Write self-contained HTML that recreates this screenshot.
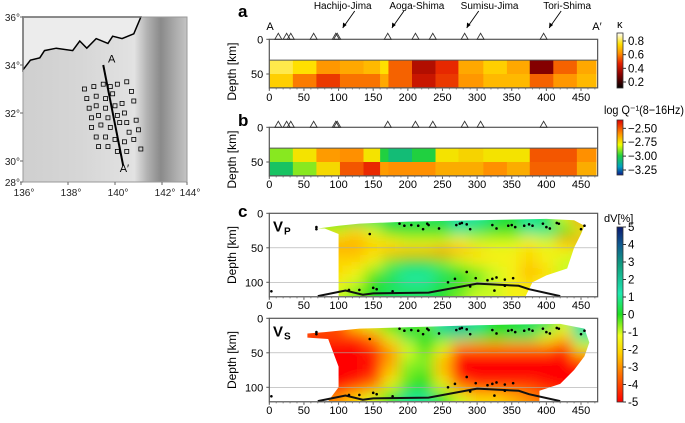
<!DOCTYPE html>
<html><head><meta charset="utf-8">
<style>
html,body{margin:0;padding:0;background:#fff;}
body{width:685px;height:418px;overflow:hidden;font-family:"Liberation Sans",sans-serif;}
svg text{font-family:"Liberation Sans",sans-serif;}
</style></head>
<body>
<svg id="fig" width="685" height="418" viewBox="0 0 685 418" xmlns="http://www.w3.org/2000/svg">
<defs>
  <linearGradient id="mapbg" x1="0" y1="0" x2="1" y2="0">
    <stop offset="0" stop-color="#cfcfcf"/><stop offset="0.35" stop-color="#d6d6d6"/>
    <stop offset="0.68" stop-color="#e2e2e2"/><stop offset="0.76" stop-color="#b0b0b0"/>
    <stop offset="0.84" stop-color="#8a8a8a"/><stop offset="0.92" stop-color="#a8a8a8"/>
    <stop offset="1" stop-color="#c4c4c4"/>
  </linearGradient>
  <linearGradient id="kbar" x1="0" y1="1" x2="0" y2="0">
    <stop offset="0" stop-color="#000"/><stop offset="0.25" stop-color="#8b0000"/>
    <stop offset="0.45" stop-color="#e52000"/><stop offset="0.62" stop-color="#ff8c00"/>
    <stop offset="0.8" stop-color="#ffe000"/><stop offset="1" stop-color="#ffffff"/>
  </linearGradient>
  <linearGradient id="qbar" x1="0" y1="1" x2="0" y2="0">
    <stop offset="0" stop-color="#0a1a8a"/><stop offset="0.15" stop-color="#00a0c0"/>
    <stop offset="0.35" stop-color="#20d040"/><stop offset="0.55" stop-color="#f0ff00"/>
    <stop offset="0.75" stop-color="#ff9000"/><stop offset="1" stop-color="#e00000"/>
  </linearGradient>
  <linearGradient id="dvbar" x1="0" y1="1" x2="0" y2="0">
    <stop offset="0" stop-color="#ff0000"/><stop offset="0.15" stop-color="#ff6a00"/>
    <stop offset="0.28" stop-color="#ffd000"/><stop offset="0.38" stop-color="#f0ff20"/>
    <stop offset="0.5" stop-color="#20e020"/><stop offset="0.62" stop-color="#20e8b0"/>
    <stop offset="0.78" stop-color="#10a080"/><stop offset="0.9" stop-color="#105a90"/>
    <stop offset="1" stop-color="#0a1a70"/>
  </linearGradient>
  <filter id="blur" x="-10%" y="-10%" width="120%" height="120%"><feGaussianBlur stdDeviation="7"/></filter>
</defs>
<g id="map"></g>
<g id="panels"></g>
</svg>
<script>
// ---------------- data ----------------
const xTicks = [0,50,100,150,200,250,300,350,400,450];
const volcanoKm = [13,25,31,64,96,98,171,211,236,282,305,396];
const islandNames = ["Hachijo-Jima","Aoga-Shima","Sumisu-Jima","Tori-Shima"];
const islandKm = [106,177,285,404];
const islandLabelOffsetKm = [0,36,33,26];
const cellEdges = [0,34,68,102,136,160,172,206,240,273,309,343,376,410,444,472];
const kappaTop = [0.8,0.75,0.62,0.65,0.68,0.75,0.55,0.38,0.48,0.65,0.72,0.65,0.3,0.55,0.65];
const kappaBot = [0.72,0.58,0.5,0.57,0.57,0.65,0.55,0.42,0.5,0.62,0.68,0.68,0.55,0.62,0.68];
const qTop = [-2.9,-2.75,-2.62,-2.6,-2.75,-3.0,-3.08,-3.0,-2.75,-2.72,-2.75,-2.75,-2.5,-2.5,-2.6];
const qBot = [-3.05,-2.9,-2.73,-2.5,-2.42,-2.62,-2.6,-2.6,-2.65,-2.65,-2.6,-2.65,-2.52,-2.52,-2.65];
const kTicks = [0.8,0.6,0.4,0.2];
const qTicks = [-2.5,-2.75,-3.0,-3.25];
const dvTicks = [5,4,3,2,1,0,-1,-2,-3,-4,-5];
const depthTicksAB = [0,50];
const depthTicksC = [0,50,100];
const gridX = [100,125,150,175,200,225,250,275,300,325,350,375,400,425,450];
const gridD = [10,25,40,55,70,85,100,115];
const vpGrid = [
 [0,0.5,0.5,0.5,0.5,0.5,0.5,1.5,1,0.5,0,1,0.5,-1,-3],
 [-1,-2,-1,0,0,0,0,1,0.5,0,0,1,1,0,-1],
 [-2.5,-2.5,-2,-1.5,-1,-1,-1,-1.5,-1,-1,-1,-1.5,-1,-2.5,-3],
 [-2.5,-2.5,-2,-2.5,-2.5,-2.5,-3,-2.5,-2,-1.5,-1.5,-2,-1.5,-1.5,-1],
 [-2,-2,-1.5,-0.5,0,0,-0.5,-1,-1.5,-1.5,-1.5,-2,-1.5,-1,-1],
 [-2,-1.5,-0.5,0.5,1,1,0.5,0,-0.5,-1,-1.5,-2.5,-2,-1,-1],
 [-1.5,-1,0,0.5,1,1,0.5,0,-0.5,-1,-1.5,-2,-1.5,-1,-1],
 [-1,-0.5,0,0.5,0.5,0.5,0,-0.5,-1,-1,-1.5,-1.5,-1.5,-1,-1]];
const vsGrid = [
 [-4,-2,-1,0,0,-0.5,1.5,2.5,1,0,0,0.5,0.5,-1,1.5],
 [-4,-4,-3,-1,0.5,0,0.5,1,0.5,0,0.5,0.5,-1,-2,1],
 [-5,-5,-4,-2.5,-1,0,-1,-3,-3,-3,-3,-3,-3,-4,-1],
 [-5,-5,-5,-3,-1,-0.5,-2,-5,-5,-5,-5,-5,-5,-5,-3],
 [-5,-5,-4.5,-2.5,-0.5,-0.5,-2.5,-5,-5,-5,-5,-5,-5,-5,-5],
 [-5,-5,-4.5,-2,-0.5,0,-2,-5,-5,-5,-5,-5,-5,-5,-5],
 [-5,-4,-3,-1,0,0,-1,-3,-4,-4,-4,-4,-4.5,-5,-5],
 [-3,-2,-1,0,1,1,0,-1,-2,-2,-2.5,-3,-3.5,-4,-4]];
const vpMaskKm = [70,100,130,200,300,400,440,455,450,440,430,400,380,370,100,100,80];
const vpMaskD  = [22,18,15,12,10,8,10,18,30,50,80,90,100,120,120,30,22];
const vsMaskKm = [55,80,130,300,420,455,462,455,440,420,390,390,85,100,100,85,55];
const vsMaskD  = [22,20,15,10,8,15,35,55,75,95,105,120,120,100,70,30,28];
const slabKm = [70,110,135,150,230,300,360,375,420];
const slabD  = [120,112,118,116,115,102,105,110,120];
const quakeKm = [3,68,68,145,188,195,205,215,222,228,230,245,270,275,278,285,290,322,328,345,350,355,368,375,380,395,400,405,415,418,450,455,258,268,285,290,298,315,322,328,340,352,115,130,150,155,178,325,340];
const quakeD  = [113,20,23,30,15,18,17,18,23,15,17,22,17,15,14,16,23,17,22,18,17,20,18,16,18,15,20,22,14,15,23,18,100,95,85,106,94,97,95,93,96,94,111,111,108,110,113,112,105];
const stLon = [138.7,139.1,139.5,139.8,140.1,140.5,138.8,139.2,139.6,139.9,140.3,140.7,138.9,139.2,139.6,140.0,140.4,140.8,139.0,139.3,139.7,140.1,140.5,140.9,139.0,139.4,139.8,140.2,140.6,141.0,139.2,139.6,140.0,140.4,140.8,139.3,139.7,140.1,140.5,141.1];
const stLat = [33.0,33.1,33.2,33.1,33.2,33.3,32.6,32.7,32.6,32.8,32.4,32.9,32.2,32.3,32.2,32.3,32.0,32.5,31.8,31.9,31.8,31.9,31.6,31.7,31.4,31.5,31.4,31.6,31.2,31.3,31.0,31.0,30.9,30.8,30.9,30.6,30.6,30.4,30.4,30.5];
const lonTicks = [136,138,140,142,144];
const latTicks = [28,30,32,34,36];

// ---------------- helpers ----------------
const NS="http://www.w3.org/2000/svg";
function mk(tag,attrs,parent){const e=document.createElementNS(NS,tag);for(const k in attrs)e.setAttribute(k,attrs[k]);(parent||document.getElementById('panels')).appendChild(e);return e;}
const X0=269.3, XS=0.6927;
const xs = km => X0 + km*XS;
const rgb = c => 'rgb('+c.map(Math.round).join(',')+')';
function lerpCol(stops,v){
  if(v<=stops[0][0])return rgb(stops[0][1]);
  for(let i=1;i<stops.length;i++){if(v<=stops[i][0]){const [a,ca]=stops[i-1],[b,cb]=stops[i];const t=(v-a)/(b-a);
    return rgb([0,1,2].map(j=>ca[j]+(cb[j]-ca[j])*t));}}
  return rgb(stops[stops.length-1][1]);}
const kStops=[[0.11,[0,0,0]],[0.31,[139,0,0]],[0.47,[229,32,0]],[0.6,[255,140,0]],[0.75,[255,224,0]],[0.92,[255,255,255]]];
const qStops=[[-3.34,[10,26,138]],[-3.19,[0,160,192]],[-3.0,[32,208,64]],[-2.8,[240,255,0]],[-2.6,[255,144,0]],[-2.35,[224,0,0]]];
const dvStops=[[-5,[255,0,0]],[-3.5,[255,106,0]],[-2.2,[255,208,0]],[-1.2,[240,255,32]],[0,[32,224,32]],[1.2,[32,232,176]],[2.8,[16,160,128]],[4,[16,90,144]],[5,[10,26,112]]];

// ---------------- map ----------------
(function(){
  const g=document.getElementById('map');
  const L=23,R=187,T=17,B=182;
  const lx=lon=>21+(lon-136)*23.5, ly=lat=>17+(36-lat)*24;
  const bg=mk('rect',{x:L,y:T,width:R-L,height:B-T,fill:'url(#mapbg)'},g);
  
  
  const land=mk('path',{d:`M${L},${T} L${lx(141.1)},${T} L${lx(140.8)},${ly(35.3)} L${lx(140.3)},${ly(35.1)} L${lx(139.9)},${ly(35.2)} L${lx(139.7)},${ly(34.9)} L${lx(139.2)},${ly(35.1)} L${lx(138.8)},${ly(34.7)} L${lx(138.5)},${ly(35.0)} L${lx(138.2)},${ly(34.6)} L${lx(137.5)},${ly(34.7)} L${lx(137.0)},${ly(34.6)} L${lx(136.8)},${ly(34.3)} L${lx(136.4)},${ly(34.2)} L${L},${ly(33.8)} Z`,fill:'#ececec',stroke:'#000','stroke-width':1.5},g);
  
  
  const fr=mk('rect',{x:L,y:T,width:R-L,height:B-T,fill:'none',stroke:'#999','stroke-width':1},g);
  
  
  stLon.forEach((lo,i)=>{const s=mk('rect',{x:lx(lo)-2,y:ly(stLat[i])-2,width:4,height:4,fill:'none',stroke:'#000','stroke-width':0.8},g);
    
    });
  const pl=mk('line',{x1:lx(139.5),y1:ly(34.0),x2:lx(140.35),y2:ly(29.8),stroke:'#000','stroke-width':2},g);
  
  
  const ta=mk('text',{x:lx(139.7),y:ly(34.1),'font-size':11},g);ta.textContent='A';
  
  
  const tb=mk('text',{x:lx(140.2),y:ly(29.55),'font-size':11},g);tb.textContent='A\u2032';
  
  
  lonTicks.forEach(v=>{const px=Math.min(lx(v),R);const t=mk('text',{x:px+3,y:196,'font-size':10,'text-anchor':'middle',fill:'#222'},g);t.textContent=v+'°';
    
    
    mk('line',{x1:px,y1:B,x2:px,y2:B+3,stroke:'#666'},g);});
  latTicks.forEach(v=>{const py=Math.min(ly(v),B);const t=mk('text',{x:20,y:py+4,'font-size':10,'text-anchor':'end',fill:'#222'},g);t.textContent=v+'°';
    
    
    mk('line',{x1:L-3,y1:py,x2:L,y2:py,stroke:'#666'},g);});
})();

// ---------------- common axes ----------------
function frame(y0,yb,ys,dTicks,name,labelY){
  const f=mk('rect',{x:X0,y:y0,width:xs(474)-X0,height:yb-y0,fill:'none',stroke:'#555','stroke-width':1.2});
  
  
  xTicks.forEach(v=>{mk('line',{x1:xs(v),y1:yb,x2:xs(v),y2:yb+3,stroke:'#555'});
    const t=mk('text',{x:xs(v),y:labelY,'font-size':11,'text-anchor':'middle'});t.textContent=v;
    
    });
  for(let v=10;v<474;v+=10){mk('line',{x1:xs(v),y1:yb,x2:xs(v),y2:yb+1.5,stroke:'#777'});}
  dTicks.forEach(d=>{const yy=y0+d*ys;mk('line',{x1:X0-3,y1:yy,x2:X0,y2:yy,stroke:'#555'});
    const t=mk('text',{x:X0-6,y:yy+4,'font-size':11,'text-anchor':'end'});t.textContent=d;
    
    });
  const yt=mk('text',{x:0,y:0,'font-size':12,'text-anchor':'middle',transform:`translate(236,${(y0+yb)/2+ (dTicks.length==2?8:0)}) rotate(-90)`});
  yt.textContent='Depth [km]';
  
  
}
function volcanoes(y){volcanoKm.forEach(k=>{const p=mk('path',{d:`M${xs(k)-3.5},${y} L${xs(k)},${y-6} L${xs(k)+3.5},${y} Z`,fill:'none',stroke:'#333','stroke-width':0.9});
  
  });}
function cells(y0,ys,top,bot,stops,name){
  [[top,30,50],[bot,50,70]].forEach(([arr,d0,d1])=>{arr.forEach((v,i)=>{
    const r=mk('rect',{x:xs(cellEdges[i]),y:y0+d0*ys,width:xs(cellEdges[i+1])-xs(cellEdges[i])+0.3,height:(d1-d0)*ys+0.3,fill:lerpCol(stops,v)});
    
    });});
}

// ---------------- panel a ----------------
const ays=0.694, ay0=39.3, ayb=ay0+70*ays;
cells(ay0,ays,kappaTop,kappaBot,kStops,'kappa');
mk('line',{x1:X0,y1:ay0+30*ays,x2:xs(474),y2:ay0+30*ays,stroke:'#555'});
frame(ay0,ayb,ays,depthTicksAB,'panel-a',101);
volcanoes(ay0);
islandNames.forEach((n,i)=>{const x=xs(islandKm[i]);
  const t=mk('text',{x:xs(islandKm[i]+islandLabelOffsetKm[i]),y:9,'font-size':10,'text-anchor':'middle'});t.textContent=n;
  
  
  mk('line',{x1:x+12,y1:11,x2:x,y2:28,stroke:'#000','stroke-width':0.9});
  mk('path',{d:`M${x},28 l0.3,-5.5 l3.6,2.5 z`,fill:'#000'});});
{const t=mk('text',{x:270,y:30,'font-size':11,'text-anchor':'middle'});t.textContent='A';
 const t2=mk('text',{x:597,y:30,'font-size':11,'text-anchor':'middle'});t2.textContent='A\u2032';}

// ---------------- panel b ----------------
const bys=0.694, by0=127.3, byb=by0+70*bys;
cells(by0,bys,qTop,qBot,qStops,'attenuation');
mk('line',{x1:X0,y1:by0+30*bys,x2:xs(474),y2:by0+30*bys,stroke:'#555'});
frame(by0,byb,bys,depthTicksAB,'panel-b',188);
volcanoes(by0);

// ---------------- panel c ----------------
function tomo(y0,ys,grid,mKm,mD,name,lab){
  const id='clip'+name;
  const cp=mk('clipPath',{id:id});
  mk('polygon',{points:mKm.map((k,i)=>xs(k)+','+(y0+mD[i]*ys)).join(' ')},cp);
  const g=mk('g',{'clip-path':`url(#${id})`});
  const inner=mk('g',{filter:'url(#blur)'},g);
  grid.forEach((row,r)=>row.forEach((v,c)=>{
    const xa=c==0?gridX[0]-60:(gridX[c-1]+gridX[c])/2, xb=c==row.length-1?gridX[c]+60:(gridX[c]+gridX[c+1])/2;
    const da=r==0?-20:(gridD[r-1]+gridD[r])/2, db=r==grid.length-1?140:(gridD[r]+gridD[r+1])/2;
    const e=mk('rect',{x:xs(xa),y:y0+da*ys,width:xs(xb)-xs(xa)+0.5,height:(db-da)*ys+0.5,fill:lerpCol(dvStops,v)},inner);
    
    }));
  const yb=y0+121*ys;
  [50,100].forEach(d=>mk('line',{x1:X0,y1:y0+d*ys,x2:xs(474),y2:y0+d*ys,stroke:'#aaa','stroke-width':0.6}));
  const sl=mk('polyline',{points:slabKm.map((k,i)=>xs(k)+','+(y0+slabD[i]*ys)).join(' '),fill:'none',stroke:'#111','stroke-width':2});
  
  
  quakeKm.forEach((k,i)=>{const q=mk('circle',{cx:xs(k),cy:y0+quakeD[i]*ys,r:1.3,fill:'#000'});
    
    });
  frame(y0,yb,ys,depthTicksC,name,yb+12);
  const t=mk('text',{x:273,y:y0+18,'font-size':15,'font-weight':'bold'});t.textContent='V';
  
  
  const s=mk('text',{x:284,y:y0+21,'font-size':10,'font-weight':'bold'});s.textContent=lab;
}
tomo(213.3,0.69,vpGrid,vpMaskKm,vpMaskD,'vp','P');
tomo(318.3,0.69,vsGrid,vsMaskKm,vsMaskD,'vs','S');

// ---------------- colorbars ----------------
function cbar(y0,y1,fill,ticks,vTop,vBot,name,fmt){
  const r=mk('rect',{x:617,y:y0,width:6,height:y1-y0,fill:fill,stroke:'#333','stroke-width':0.8});
  
  
  ticks.forEach(v=>{const yy=y0+(vTop-v)/(vTop-vBot)*(y1-y0);
    mk('line',{x1:623,y1:yy,x2:626,y2:yy,stroke:'#333'});
    const t=mk('text',{x:628,y:yy+4,'font-size':11.5});t.textContent=fmt(v);
    
    });
}
cbar(33,88,'url(#kbar)',kTicks,0.917,0.112,'kappa-colorbar',v=>v.toFixed(1));
cbar(120,175,'url(#qbar)',qTicks,-2.35,-3.34,'q-colorbar',v=>'\u2212'+Math.abs(v).toFixed(2));
cbar(227,402,'url(#dvbar)',dvTicks,5,-5,'dv-colorbar',v=>v<0?'-'+Math.abs(v):''+v);
{const t=mk('text',{x:617,y:28,'font-size':11});t.textContent='\u03BA';
 const q=mk('text',{x:604,y:114,'font-size':12,'font-family':'Liberation Serif, serif',textLength:80,lengthAdjust:'spacingAndGlyphs'});q.textContent='log Q\u207B\u00B9(8\u221216Hz)';
 const d=mk('text',{x:604,y:222,'font-size':11});d.textContent='dV[%]';}
[['a',12],['b',121],['c',212]].forEach(([l,y])=>{const t=mk('text',{x:238,y:y+5,'font-size':17,'font-weight':'bold'});t.textContent=l;
  
  });
</script>
</body></html>
